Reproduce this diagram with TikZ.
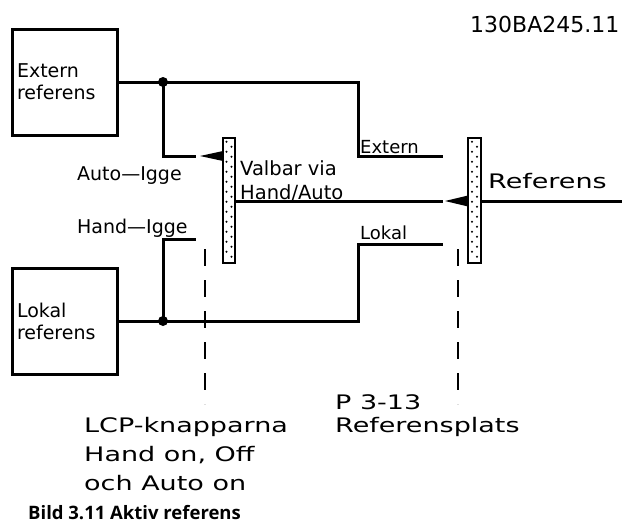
\documentclass[tikz,border=0pt]{standalone}
\usepackage{fontspec}
\setmainfont{DejaVu Sans}
\newfontfamily\widefont[FakeStretch=1.35]{DejaVu Sans}
\newfontfamily\capfont{Open Sans}
\usetikzlibrary{arrows.meta, positioning, calc}

\begin{document}
\begin{tikzpicture}[
    x=1pt, y=-1pt,
    wire/.style={line width=3pt},
    refbox/.style={draw, line width=3pt, align=left, text width=95pt,
        inner sep=5pt, minimum height=106pt,
        font=\fontsize{19}{22}\selectfont},
    selbar/.style={draw, line width=2.6pt, fill=white, minimum width=12pt,
        minimum height=125pt, inner sep=0pt},
    lbl/.style={inner sep=0pt, font=\fontsize{19}{24}\selectfont},
    small/.style={inner sep=0pt, font=\fontsize{18}{20}\selectfont},
    note/.style={inner sep=0pt, align=left},
    sep/.style={line width=2.6pt, dash pattern=on 17pt off 14pt},
]
\useasboundingbox (0,0) rectangle (625,523);

\node[refbox] (ext) at (64.5,82) {Extern\\referens};
\node[refbox] (lok) at (64.5,321) {Lokal\\referens};
\node[selbar] (barA) at (229,200.5) {};
\node[selbar, minimum width=13pt] (barB) at (474.5,200.5) {};

% prickig fyllning
\foreach \b in {barA, barB} {
  \foreach \k in {0,2,...,22} \fill ($(\b.north)+(-2.5,5+5*\k)$) circle (1.1pt);
  \foreach \k in {1,3,...,23} \fill ($(\b.north)+(2.5,5+5*\k)$) circle (1.1pt);
}

\coordinate (dotE) at (163,82);
\coordinate (dotL) at (163,321);
\coordinate (autoEnd) at (196,156);
\coordinate (handEnd) at (196,239);
\coordinate (extEnd) at (443,156);
\coordinate (lokEnd) at (443,244);
\coordinate (selStart) at (235,201);
\coordinate (selEnd) at (443,201);
\coordinate (outStart) at (481,201);
\coordinate (outEnd) at (622,201);
\coordinate (tipA) at (200,156);
\coordinate (tipB) at (445,201);

\draw[wire] (ext.east) -| (358,156) -- (extEnd);
\draw[wire] (lok.east) -| (358,244) -- (lokEnd);
\draw[wire] (dotE) |- (autoEnd);
\draw[wire] (dotL) |- (handEnd);
\draw[wire] (selStart) -- (selEnd);
\draw[wire] (outStart) -- (outEnd);
\foreach \d in {dotE, dotL} \fill (\d) circle (5pt);

% vippor
\fill (tipA) -- ++(23,-5) -- ++(0,10) -- cycle;
\fill (tipB) -- ++(23,-5.5) -- ++(0,11) -- cycle;

\draw[sep] (205,249) -- (205,404);
\draw[sep] (458,249) -- (458,404);

\node[small, anchor=base west] (extLbl) at (360,153) {Extern};
\node[small, anchor=base west] (lokLbl) at (360,239) {Lokal};
\node[lbl, anchor=base west] (autoLbl) at (77,180) {Auto---Igge};
\node[lbl, anchor=base west] (handLbl) at (77,233) {Hand---Igge};
\node[note, anchor=north west, font=\fontsize{19.5}{24}\selectfont]
    (valLbl) at (240,160.5) {Valbar via\\Hand/Auto};
\node[inner sep=0pt, anchor=base west, font=\widefont\fontsize{20}{22}\selectfont]
    (refLbl) at (488,188) {Referens};
\node[inner sep=0pt, anchor=base west, font=\fontsize{22}{26}\selectfont]
    (code) at (470,32) {130BA245.11};

\node[note, anchor=north west, font=\widefont\fontsize{20}{29}\selectfont]
    (lcp) at (84,417) {LCP-knapparna\\Hand on, Off\\och Auto on};
\node[note, anchor=north west, font=\widefont\fontsize{20}{23}\selectfont]
    (par) at (335,394) {P 3-13\\Referensplats};
\node[inner sep=0pt, anchor=base west, font=\capfont\bfseries\fontsize{18.5}{21}\selectfont]
    (cap) at (28,519) {Bild 3.11 Aktiv referens};
\end{tikzpicture}
\end{document}
